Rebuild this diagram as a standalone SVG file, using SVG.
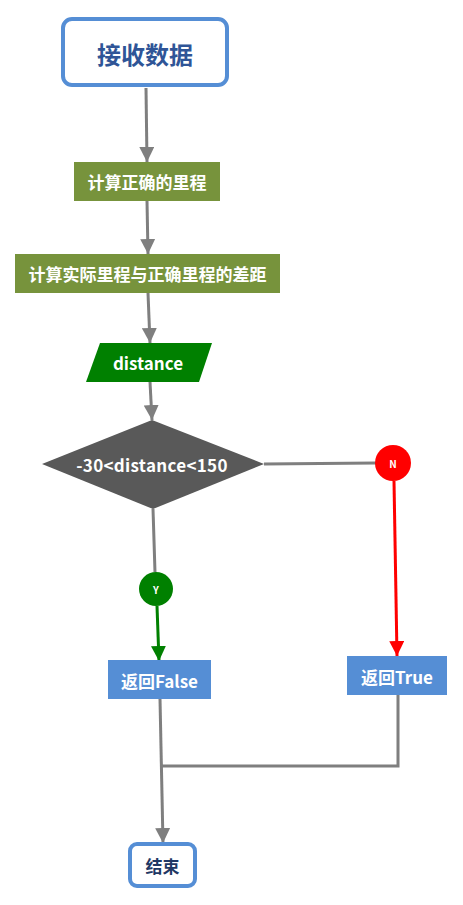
<svg xmlns="http://www.w3.org/2000/svg" width="463" height="905" viewBox="0 0 463 905">
<defs>
<style>
text{font-family:"Noto Sans CJK SC","Noto Sans",sans-serif;font-weight:bold;text-anchor:middle;dominant-baseline:central}
.w{fill:#fff}
.c{stroke:#7f7f7f;stroke-width:3;fill:none}
</style>
<marker id="ag" viewBox="0 0 10 10" refX="10" refY="5" markerWidth="5" markerHeight="5" markerUnits="strokeWidth" orient="auto"><path d="M0,0L10,5L0,10z" fill="#7f7f7f"/></marker>
<marker id="agr" viewBox="0 0 10 10" refX="10" refY="5" markerWidth="5" markerHeight="5" markerUnits="strokeWidth" orient="auto"><path d="M0,0L10,5L0,10z" fill="#008000"/></marker>
<marker id="ar" viewBox="0 0 10 10" refX="10" refY="5" markerWidth="5" markerHeight="5" markerUnits="strokeWidth" orient="auto"><path d="M0,0L10,5L0,10z" fill="#ff0000"/></marker>
</defs>
<rect width="463" height="905" fill="#fff"/>
<g id="connectors">
<path class="c" d="M146,88L147,162" marker-end="url(#ag)"/>
<path class="c" d="M147,201L148,254" marker-end="url(#ag)"/>
<path class="c" d="M148,293L150,343" marker-end="url(#ag)"/>
<path class="c" d="M150,382L152,420" marker-end="url(#ag)"/>
<path class="c" d="M264,464L376,463"/>
<path class="c" d="M153,509L155,572"/>
<path d="M157,606L159,661" stroke="#008000" stroke-width="3" fill="none" marker-end="url(#agr)"/>
<path d="M394,481L397,656" stroke="#ff0000" stroke-width="3" fill="none" marker-end="url(#ar)"/>
<path class="c" d="M160,699L163,843" marker-end="url(#ag)"/>
<path class="c" d="M398,695L398,766L162,766"/>
</g>
<g id="start">
<rect x="63" y="19" width="164" height="66" rx="9" fill="#fff" stroke="#558ED5" stroke-width="4"/>
<text x="145" y="53" font-size="24" fill="#2F5597">接收数据</text>
</g>
<g id="calc1">
<rect x="74" y="162" width="146" height="39" fill="#77933C"/>
<text class="w" x="147" y="181.5" font-size="17">计算正确的里程</text>
</g>
<g id="calc2">
<rect x="15" y="254" width="265" height="39" fill="#77933C"/>
<text class="w" x="147.5" y="273.5" font-size="17">计算实际里程与正确里程的差距</text>
</g>
<g id="distance">
<polygon points="100,343 212,343 199,382 86,382" fill="#008000"/>
<text class="w" x="148" y="362.5" font-size="17">distance</text>
</g>
<g id="decision">
<polygon points="152,420 264,464 153,509 42,464" fill="#595959"/>
<text class="w" x="152" y="464" font-size="17" letter-spacing="0.3">-30&lt;distance&lt;150</text>
</g>
<g id="n">
<circle cx="393" cy="463" r="18" fill="#ff0000"/>
<text class="w" x="393" y="463" font-size="10">N</text>
</g>
<g id="y">
<circle cx="156" cy="589" r="17" fill="#008000"/>
<text class="w" x="156" y="589" font-size="10">Y</text>
</g>
<g id="false">
<rect x="108" y="660" width="103" height="39" fill="#558ED5"/>
<text class="w" x="159.5" y="680" font-size="17">返回False</text>
</g>
<g id="true">
<rect x="347" y="656" width="100" height="39" fill="#558ED5"/>
<text class="w" x="397" y="676" font-size="17">返回True</text>
</g>
<g id="end">
<rect x="130" y="844" width="65" height="42" rx="7" fill="#fff" stroke="#558ED5" stroke-width="4"/>
<text x="162.5" y="865" font-size="17" fill="#1F3864">结束</text>
</g>
</svg>
